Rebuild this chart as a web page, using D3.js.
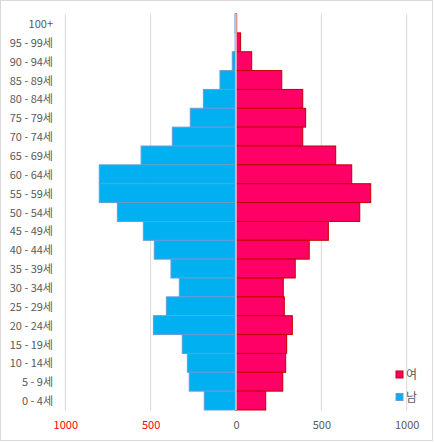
<!DOCTYPE html>
<html>
<head>
    <meta charset="utf-8">
    <title>인구 피라미드</title>
    <script src="https://d3js.org/d3.v7.min.js"></script>
</head>
<style>
    html, body { margin: 0; padding: 0; background: #fff; }
    svg text { font-family: "Noto Sans CJK KR", "Noto Sans", sans-serif; }
</style>
<body>
    <svg class="pyramid"></svg>
    <script>
        // 연령대 (위에서 아래로)
        var ages = ['100+', '95 - 99세', '90 - 94세', '85 - 89세', '80 - 84세', '75 - 79세',
            '70 - 74세', '65 - 69세', '60 - 64세', '55 - 59세', '50 - 54세', '45 - 49세',
            '40 - 44세', '35 - 39세', '30 - 34세', '25 - 29세', '20 - 24세', '15 - 19세',
            '10 - 14세', '5 - 9세', '0 - 4세'];
        // 남 (왼쪽)
        var male = [6, 5, 22, 94, 191, 268, 373, 556, 801, 801, 695, 543, 479, 381, 332, 408, 484, 315, 285, 274, 186];
        // 여 (오른쪽)
        var female = [4, 27, 92, 268, 391, 408, 391, 584, 678, 789, 725, 541, 429, 347, 277, 283, 330, 297, 291, 274, 174];
        var xTicks = [-1000, -500, 0, 500, 1000];

        var width = 434, height = 442;
        var svg = d3.select('.pyramid').attr('width', width).attr('height', height);

        // 바깥 테두리
        svg.append('rect')
            .attr('x', 0.5).attr('y', 0.5)
            .attr('width', width - 2).attr('height', height - 2)
            .attr('fill', '#fff').attr('stroke', '#d9d9d9');

        var x = d3.scaleLinear().domain([-1000, 1000]).range([65.3, 406.7]);
        var y = d3.scaleBand().domain(ages).range([14, 410]).padding(0);

        // 세로 격자선
        svg.append('g').selectAll('line')
            .data(xTicks)
            .enter().append('line')
            .attr('x1', function (d) { return x(d); })
            .attr('x2', function (d) { return x(d); })
            .attr('y1', 14).attr('y2', 411)
            .attr('stroke', '#d9d9d9').attr('stroke-width', 1);

        // 남 막대
        svg.append('g').selectAll('rect')
            .data(male)
            .enter().append('rect')
            .attr('x', function (d) { return x(-d); })
            .attr('y', function (d, i) { return y(ages[i]); })
            .attr('width', function (d) { return x(0) - x(-d); })
            .attr('height', y.bandwidth())
            .attr('fill', '#00b0f0')
            .attr('stroke', '#6b9bd6').attr('stroke-width', 1);

        // 여 막대
        svg.append('g').selectAll('rect')
            .data(female)
            .enter().append('rect')
            .attr('x', x(0))
            .attr('y', function (d, i) { return y(ages[i]); })
            .attr('width', function (d) { return x(d) - x(0); })
            .attr('height', y.bandwidth())
            .attr('fill', '#ff0066')
            .attr('stroke', '#c00000').attr('stroke-width', 1);

        // 가운데 선
        svg.append('line')
            .attr('x1', x(0)).attr('x2', x(0))
            .attr('y1', 14).attr('y2', 410)
            .attr('stroke', '#fff').attr('stroke-width', 1.2);

        // 세로축 (연령대)
        var yAxis = svg.append('g')
            .attr('transform', 'translate(55,1)')
            .call(d3.axisLeft(y).tickSize(0).tickPadding(2));
        yAxis.select('.domain').remove();
        yAxis.selectAll('text')
            .attr('fill', '#595959')
            .style('font-size', '11px');

        // 가로축
        var xAxis = svg.append('g')
            .attr('transform', 'translate(0,418)')
            .call(d3.axisBottom(x).tickValues(xTicks).tickSize(0)
                .tickFormat(function (d) { return Math.abs(d); }));
        xAxis.select('.domain').remove();
        xAxis.selectAll('text')
            .attr('fill', function (d) { return d < 0 ? '#ff0000' : '#595959'; })
            .style('font-size', '11px');

        // 범례
        var legend = [{ name: '여', fill: '#ff0066', stroke: '#c00000' },
            { name: '남', fill: '#00b0f0', stroke: '#6b9bd6' }];
        var lg = svg.append('g').selectAll('g')
            .data(legend)
            .enter().append('g')
            .attr('transform', function (d, i) { return 'translate(396,' + (371 + i * 22.5) + ')'; });
        lg.append('rect')
            .attr('width', 7).attr('height', 7)
            .attr('fill', function (d) { return d.fill; })
            .attr('stroke', function (d) { return d.stroke; });
        lg.append('text')
            .attr('x', 10).attr('y', 4).attr('dy', '.35em')
            .attr('fill', '#595959')
            .style('font-size', '12px')
            .text(function (d) { return d.name; });
    </script>
</body>
</html>
